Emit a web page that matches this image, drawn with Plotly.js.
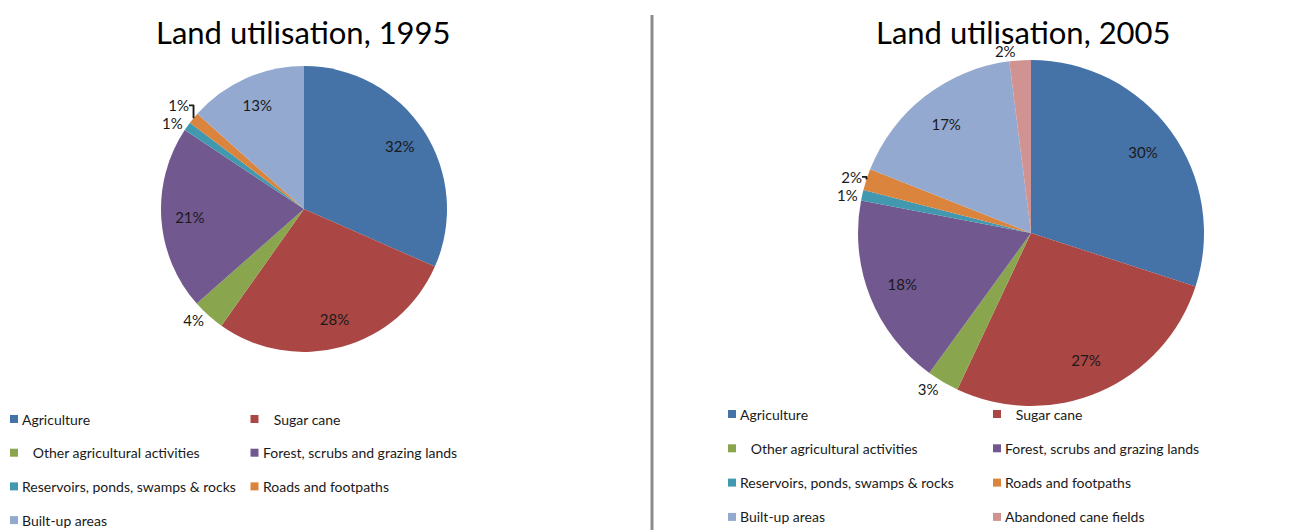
<!DOCTYPE html>
<html>
<head>
<meta charset="utf-8">
<script src="https://cdn.plot.ly/plotly-3.0.1.min.js"></script>
<style>
  body { margin: 0; background: #fff; }
  #chart { width: 1295px; height: 530px; }
</style>
</head>
<body>
<div id="chart"></div>
<script>
// Catégories et valeurs
const categories1995 = ['Agriculture', 'Sugar cane', 'Other agricultural activities',
  'Forest, scrubs and grazing lands', 'Reservoirs, ponds, swamps & rocks',
  'Roads and footpaths', 'Built-up areas'];
const values1995 = [31.6, 28.2, 3.7, 20.8, 1.0, 1.3, 13.4];

const categories2005 = categories1995.concat(['Abandoned cane fields']);
const values2005 = [30, 27, 3, 18, 1, 2, 17, 2];

// Libellés de légende (espaces comme dans l'original)
const legendLabels1995 = ['Agriculture', '\u00a0\u00a0 Sugar cane', '\u00a0\u00a0 Other agricultural activities',
  'Forest, scrubs and grazing lands', 'Reservoirs, ponds, swamps & rocks', 'Roads and footpaths', 'Built-up areas'];
const legendLabels2005 = legendLabels1995.concat(['Abandoned cane fields']);

const colors = ['#4572A7', '#AA4643', '#89A54E', '#71588F', '#4198AF', '#DB843D', '#93A9CF', '#D19392'];

const W = 1295, H = 530;
const px = x => x / W;
const py = y => 1 - y / H;
const FONT = 'Lato, "Open Sans", sans-serif';

// small = étiquette à l'extérieur
function pieTraces(labels, values, cx, cy, r, small) {
  const domain = { x: [px(cx - r), px(cx + r)], y: [py(cy + r), py(cy - r)] };
  const common = {
    type: 'pie', labels: labels, values: values, sort: false,
    direction: 'clockwise', rotation: 0, automargin: false,
    texttemplate: '%{percent:.0%}', insidetextorientation: 'horizontal',
    textfont: { family: FONT, size: 15, color: '#1a1a1a' },
    domain: domain, showlegend: false, hoverinfo: 'skip'
  };
  return [
    Object.assign({}, common, {
      textposition: small.map(s => s ? 'outside' : 'none'),
      marker: { colors: colors.slice(0, labels.length), line: { width: 0 } }
    }),
    // anneau transparent pour placer les étiquettes vers l'extérieur
    Object.assign({}, common, {
      hole: 0.6,
      textposition: small.map(s => s ? 'none' : 'inside'),
      marker: { colors: labels.map(() => 'rgba(0,0,0,0)'), line: { width: 0 } }
    })
  ];
}

const data = [].concat(
  pieTraces(categories1995, values1995, 304, 209, 143,
    [false, false, true, false, true, true, false]),
  pieTraces(categories2005, values2005, 1031, 233, 173,
    [false, false, true, false, true, true, false, true])
);

// Légendes dessinées à la main : deux colonnes
const annotations = [];
const shapes = [];

function addLegend(labels, col1x, col2x, row0y, rowStep) {
  labels.forEach((lab, i) => {
    const x = i % 2 === 0 ? col1x : col2x;
    const y = row0y + Math.floor(i / 2) * rowStep;
    shapes.push({
      type: 'rect', xref: 'paper', yref: 'paper',
      xsizemode: 'pixel', ysizemode: 'pixel',
      xanchor: px(x), yanchor: py(y),
      x0: -4, x1: 4, y0: -4, y1: 4,
      fillcolor: colors[i], line: { width: 0 }
    });
    annotations.push({
      xref: 'paper', yref: 'paper', x: px(x + 6), y: py(y),
      xanchor: 'left', yanchor: 'middle', showarrow: false,
      text: lab, font: { family: FONT, size: 14, color: '#1a1a1a' }
    });
  });
}
addLegend(legendLabels1995, 14, 254.5, 419, 33.7);
addLegend(legendLabels2005, 732, 997, 414, 34.3);

annotations.push(
  { xref: 'paper', yref: 'paper', x: px(303), y: py(32), xanchor: 'center', yanchor: 'middle',
    showarrow: false, text: 'Land utilisation, 1995', font: { family: FONT, size: 31, color: '#000' } },
  { xref: 'paper', yref: 'paper', x: px(1023), y: py(32), xanchor: 'center', yanchor: 'middle',
    showarrow: false, text: 'Land utilisation, 2005', font: { family: FONT, size: 31, color: '#000' } }
);

// Séparateur vertical
shapes.push({
  type: 'line', xref: 'paper', yref: 'paper',
  x0: px(652), x1: px(652), y0: 0, y1: py(15),
  line: { color: '#8c8c8c', width: 3 }
});

const layout = {
  width: W,
  height: H,
  margin: { l: 0, r: 0, t: 0, b: 0 },
  paper_bgcolor: '#ffffff',
  plot_bgcolor: '#ffffff',
  showlegend: false,
  annotations: annotations,
  shapes: shapes
};

Plotly.newPlot('chart', data, layout, { displayModeBar: false, staticPlot: true });
</script>
</body>
</html>
